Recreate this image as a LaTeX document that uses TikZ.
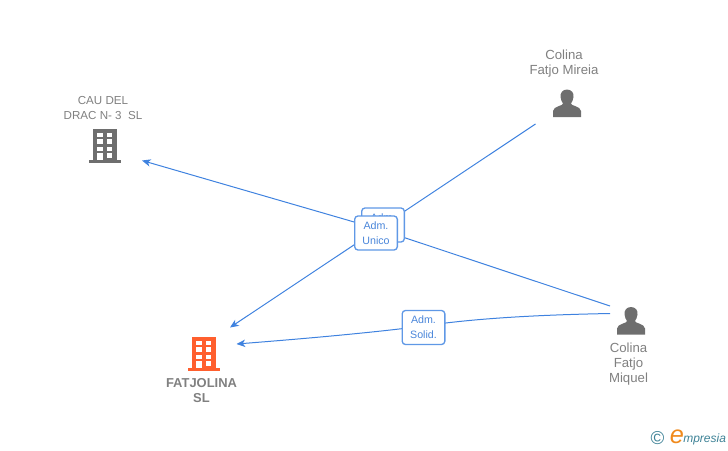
\documentclass[tikz,border=0pt]{standalone}
\usepackage{fontspec}
\setmainfont{Liberation Sans}
\usetikzlibrary{arrows.meta}
\definecolor{linkblue}{HTML}{3F82DF}
\definecolor{boxblue}{HTML}{5F98E6}
\definecolor{textblue}{HTML}{4A86DA}
\definecolor{namegray}{HTML}{808080}
\definecolor{icongray}{HTML}{6E6E6E}
\definecolor{firmorange}{HTML}{FF5F2E}
\definecolor{logoteal}{HTML}{3E8296}
\definecolor{logoorange}{HTML}{F08A1D}
\tikzset{
	namelabel/.style={text=namegray,font=\fontsize{8.7}{11.25}\selectfont,align=center,inner sep=0pt},
	personlabel/.style={namelabel,font=\fontsize{9.9}{11.25}\selectfont},
	boldlabel/.style={namelabel,font=\fontsize{9.7}{11.25}\selectfont\bfseries},
	rolebox/.style={draw=boxblue,line width=1pt,fill=white,rounded corners=2.5pt,text=textblue,
		font=\fontsize{8}{11}\selectfont,align=center,minimum width=32pt,minimum height=25.5pt,inner sep=0pt},
	link/.style={draw=linkblue,line width=.75pt},
	arrowlink/.style={link,-{Stealth[length=6.5pt,width=5.5pt,inset=1.8pt]}},
	buildingicon/.pic={
		\fill[pic actions](-12,0)rectangle(12,-34);
		\fill[pic actions](-16,-3.5)rectangle(16,0);
		\foreach \row in {-30.3,-23.7,-16.3}{
			\fill[white](-7.7,\row)rectangle(-2.3,\row+4.5);
			\fill[white](1.7,\row)rectangle(7.3,\row+4.5);
		}
		\fill[white](-7.7,-9.7)rectangle(-2.3,-3.5);
		\fill[white](1.7,-9.7)rectangle(7.3,-5.3);
	},
	personicon/.pic={
		\fill[icongray](0,-27.5)..controls(-4.5,-27.5)and(-7,-24)..(-6.5,-20)
			..controls(-6.2,-17)and(-5,-15)..(-4,-13.5)
			..controls(-4,-11)and(-13.5,-11)..(-14,-6)--(-14,0)--(14,0)--(14,-6)
			..controls(13.5,-11)and(4,-11)..(4,-13.5)
			..controls(5,-15)and(6.2,-17)..(6.5,-20)
			..controls(7,-24)and(4.5,-27.5)..(0,-27.5)--cycle;
	}
}
\begin{document}
\begin{tikzpicture}[x=.75pt,y=-.75pt]
	\useasboundingbox(0,0)rectangle(728,450);
	\coordinate(mireiaend)at(535.5,124);
	\coordinate(miquelend)at(610,306);
	\coordinate(miquelfoot)at(610,313.5);
	\coordinate(caupoint)at(142,160.5);
	\coordinate(fatpointa)at(230,327.5);
	\coordinate(fatpointb)at(236.5,344);
	\coordinate(crossing)at(380,229.5);
	\coordinate(solidmid)at(423.5,326);
	\draw[arrowlink](mireiaend)--(fatpointa);
	\draw[arrowlink](miquelend)--(crossing)--(caupoint);
	\draw[arrowlink](miquelfoot)..controls(530,315)and(470,319)..(solidmid)
		..controls(370,333)and(300,339)..(fatpointb);
	\node[rolebox](hiddenbox)at(383,225){Adm.\\\phantom{Unico}};
	\node[rolebox](unicobox)at(376,233){Adm.\\Unico};
	\node[rolebox](solidbox)at(423.5,327.5){Adm.\\Solid.};
	\node[namelabel](caulabel)at(103,108.5){CAU DEL\\DRAC N- 3\ \ SL};
	\node[boldlabel](fatlabel)at(201.5,391){FATJOLINA\\SL};
	\node[personlabel](mireialabel)at(564,63.5){Colina\\Fatjo Mireia};
	\node[personlabel](miquellabel)at(628.5,364.5){Colina\\Fatjo\\Miquel};
	\pic[fill=icongray]at(105,163){buildingicon};
	\pic[fill=firmorange]at(204,371){buildingicon};
	\pic at(567,117){personicon};
	\pic at(631,334.5){personicon};
	\node[text=logoteal,font=\fontsize{14}{14}\selectfont,inner sep=0pt](logocopy)at(657.5,438.5){©};
	\node[text=logoorange,font=\fontsize{19}{19}\selectfont\itshape,inner sep=0pt](logoe)at(677,436.5){e};
	\node[text=logoteal,font=\fontsize{9}{10}\selectfont\itshape,inner sep=0pt,anchor=west](logoname)at(683,439){mpresia};
\end{tikzpicture}
\end{document}
